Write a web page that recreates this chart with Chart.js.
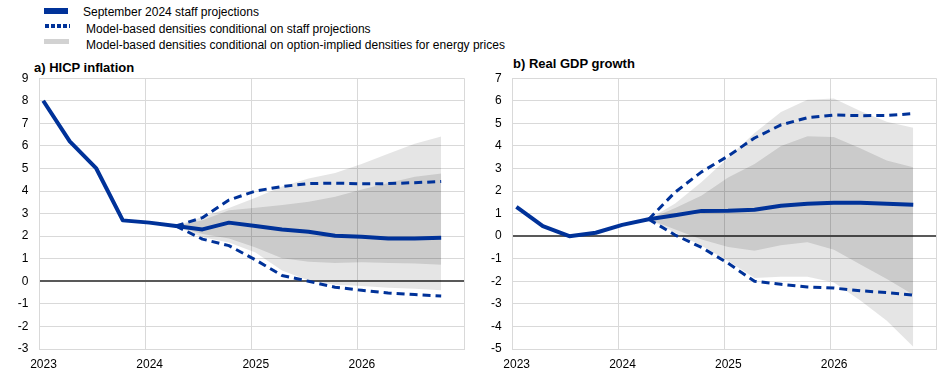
<!DOCTYPE html>
<html>
<head>
<meta charset="utf-8">
<script src="https://cdn.jsdelivr.net/npm/chart.js@4.4.1/dist/chart.umd.min.js"></script>
<style>
    body { margin: 0; background: #fff; font-family: 'Liberation Sans', Arial, sans-serif; }
    #wrap { position: relative; width: 944px; height: 375px; overflow: hidden; }
    .panel { position: absolute; top: 60px; width: 472px; height: 315px; }
    .title { position: absolute; font-weight: bold; font-size: 13px; line-height: 15px; color: #000; white-space: nowrap; }
    .legend-text { position: absolute; font-size: 12px; line-height: 14px; color: #000; white-space: nowrap; }
    .swatch { position: absolute; }
</style>
</head>
<body>
<div id="wrap">
    <div class="swatch" style="left:44px; top:8px; width:24px; height:6px; background:#003299;"></div>
    <div class="legend-text" style="left:83px; top:5px;">September 2024 staff projections</div>
    <div class="swatch" style="left:45px; top:24px; width:25px; height:4px; background:repeating-linear-gradient(90deg, #003299 0 4px, #fff 4px 6px);"></div>
    <div class="legend-text" style="left:86px; top:22px;">Model-based densities conditional on staff projections</div>
    <div class="swatch" style="left:44px; top:39px; width:25px; height:5px; background:#d2d2d2;"></div>
    <div class="legend-text" style="left:86px; top:38px;">Model-based densities conditional on option-implied densities for energy prices</div>

    <div class="title" style="left:34px; top:60px;">a) HICP inflation</div>
    <div class="title" style="left:513px; top:56px;">b) Real GDP growth</div>

    <div class="panel" style="left:0;"><canvas id="hicp" width="472" height="315"></canvas></div>
    <div class="panel" style="left:472px;"><canvas id="gdp" width="472" height="315"></canvas></div>
</div>
<script>
// quarters 2023Q1 .. 2026Q4, projections fan out from 2024Q2
const quarters = ['2023Q1','2023Q2','2023Q3','2023Q4','2024Q1','2024Q2','2024Q3','2024Q4',
                  '2025Q1','2025Q2','2025Q3','2025Q4','2026Q1','2026Q2','2026Q3','2026Q4'];
const yearLabels = ['2023', '2024', '2025', '2026'];
const forkIndex = 5;

// a) HICP inflation
const hicpStaff = [8.0, 6.2, 5.0, 2.7, 2.6, 2.45, 2.3, 2.6, 2.45, 2.3, 2.2, 2.02, 1.97, 1.9, 1.9, 1.93];
const hicpDashHigh = [2.45, 2.82, 3.6, 4.0, 4.2, 4.33, 4.35, 4.32, 4.33, 4.37, 4.42];
const hicpDashLow = [2.45, 1.87, 1.58, 0.95, 0.26, 0.0, -0.26, -0.4, -0.52, -0.59, -0.65];
const hicpDarkHigh = [2.45, 2.7, 3.15, 3.26, 3.38, 3.52, 3.75, 4.07, 4.36, 4.63, 4.78];
const hicpDarkLow = [2.45, 2.1, 1.9, 1.5, 1.02, 0.87, 0.81, 0.84, 0.81, 0.79, 0.73];
const hicpLightHigh = [2.45, 2.85, 3.25, 3.7, 4.2, 4.55, 4.8, 5.2, 5.65, 6.1, 6.42];
const hicpLightLow = [2.45, 1.95, 1.72, 1.28, 0.48, 0.04, -0.15, -0.21, -0.29, -0.33, -0.4];

// b) Real GDP growth
const gdpStaff = [1.3, 0.45, 0.0, 0.15, 0.5, 0.75, 0.93, 1.12, 1.13, 1.17, 1.35, 1.44, 1.48, 1.48, 1.44, 1.39];
const gdpDashHigh = [0.75, 1.95, 2.85, 3.55, 4.35, 4.93, 5.25, 5.37, 5.34, 5.35, 5.43];
const gdpDashLow = [0.75, 0.05, -0.5, -1.2, -2.0, -2.13, -2.25, -2.3, -2.42, -2.5, -2.61];
const gdpDarkHigh = [0.75, 1.25, 1.8, 2.6, 3.2, 4.0, 4.43, 4.39, 3.9, 3.35, 3.05];
const gdpDarkLow = [0.75, 0.3, -0.15, -0.48, -0.65, -0.4, -0.27, -0.6, -1.25, -1.9, -2.6];
const gdpLightHigh = [0.75, 1.45, 2.4, 3.47, 4.57, 5.5, 6.05, 6.1, 5.55, 5.07, 4.8];
const gdpLightLow = [0.75, 0.15, -0.42, -1.1, -1.85, -1.8, -1.8, -2.05, -2.85, -3.75, -4.9];

const blue = '#003299';
const fontFamily = "'Liberation Sans', Arial, sans-serif";
const xMin = -0.14;

function points(values, start) {
    return values.map((v, k) => ({ x: start + k, y: v }));
}

function makePanel(id, staff, dashHigh, dashLow, darkHigh, darkLow, lightHigh, lightLow, yMin, yMax, plotLeft, plotTop, padRight) {
    const ctx = document.getElementById(id).getContext('2d');
    const line = { pointRadius: 0, tension: 0, fill: false, borderJoinStyle: 'round' };
    const band = { pointRadius: 0, tension: 0, borderWidth: 0, borderColor: 'rgba(0,0,0,0)' };
    return new Chart(ctx, {
        type: 'line',
        data: {
            datasets: [
                { ...line, label: 'staff', data: points(staff, 0), borderColor: blue, borderWidth: 4 },
                { ...line, label: 'dashHigh', data: points(dashHigh, forkIndex), borderColor: blue, borderWidth: 3, borderDash: [8, 5] },
                { ...line, label: 'dashLow', data: points(dashLow, forkIndex), borderColor: blue, borderWidth: 3, borderDash: [8, 5] },
                { ...band, label: 'lightHigh', data: points(lightHigh, forkIndex), fill: false },
                { ...band, label: 'lightLow', data: points(lightLow, forkIndex), fill: '-1', backgroundColor: 'rgba(0,0,0,0.1)' },
                { ...band, label: 'darkHigh', data: points(darkHigh, forkIndex), fill: false },
                { ...band, label: 'darkLow', data: points(darkLow, forkIndex), fill: '-1', backgroundColor: 'rgba(0,0,0,0.115)' }
            ]
        },
        options: {
            responsive: false,
            animation: false,
            layout: { padding: { top: plotTop, right: padRight, left: 0, bottom: 0 } },
            plugins: {
                legend: { display: false },
                tooltip: { enabled: false }
            },
            scales: {
                x: {
                    type: 'linear',
                    min: xMin,
                    max: xMin + quarters.length,
                    afterBuildTicks: scale => {
                        scale.ticks = [0, 4, 8, 12, 16].map(q => ({ value: xMin + q }));
                    },
                    afterFit: scale => { scale.height = 26; },
                    grid: { color: '#d9d9d9', drawTicks: false },
                    border: { color: '#d9d9d9' },
                    ticks: {
                        autoSkip: false,
                        maxRotation: 0,
                        padding: 8,
                        labelOffset: 4,
                        color: '#000',
                        font: { family: fontFamily, size: 12 },
                        callback: (value, index) => yearLabels[index] || ''
                    }
                },
                y: {
                    min: yMin,
                    max: yMax,
                    afterFit: scale => { scale.width = plotLeft; },
                    grid: {
                        drawTicks: false,
                        color: c => c.tick.value === 0 ? '#595959' : '#d9d9d9',
                        lineWidth: c => c.tick.value === 0 ? 2 : 1
                    },
                    border: { color: '#d9d9d9' },
                    ticks: {
                        stepSize: 1,
                        padding: 11,
                        color: '#000',
                        font: { family: fontFamily, size: 12 }
                    }
                }
            }
        }
    });
}

document.addEventListener('DOMContentLoaded', function () {
    makePanel('hicp', hicpStaff, hicpDashHigh, hicpDashLow, hicpDarkHigh, hicpDarkLow, hicpLightHigh, hicpLightLow, -3, 9, 39.5, 16.3, 6);
    makePanel('gdp', gdpStaff, gdpDashHigh, gdpDashLow, gdpDarkHigh, gdpDarkLow, gdpLightHigh, gdpLightLow, -5, 7, 40.7, 14.3, 5);
});
</script>
</body>
</html>
